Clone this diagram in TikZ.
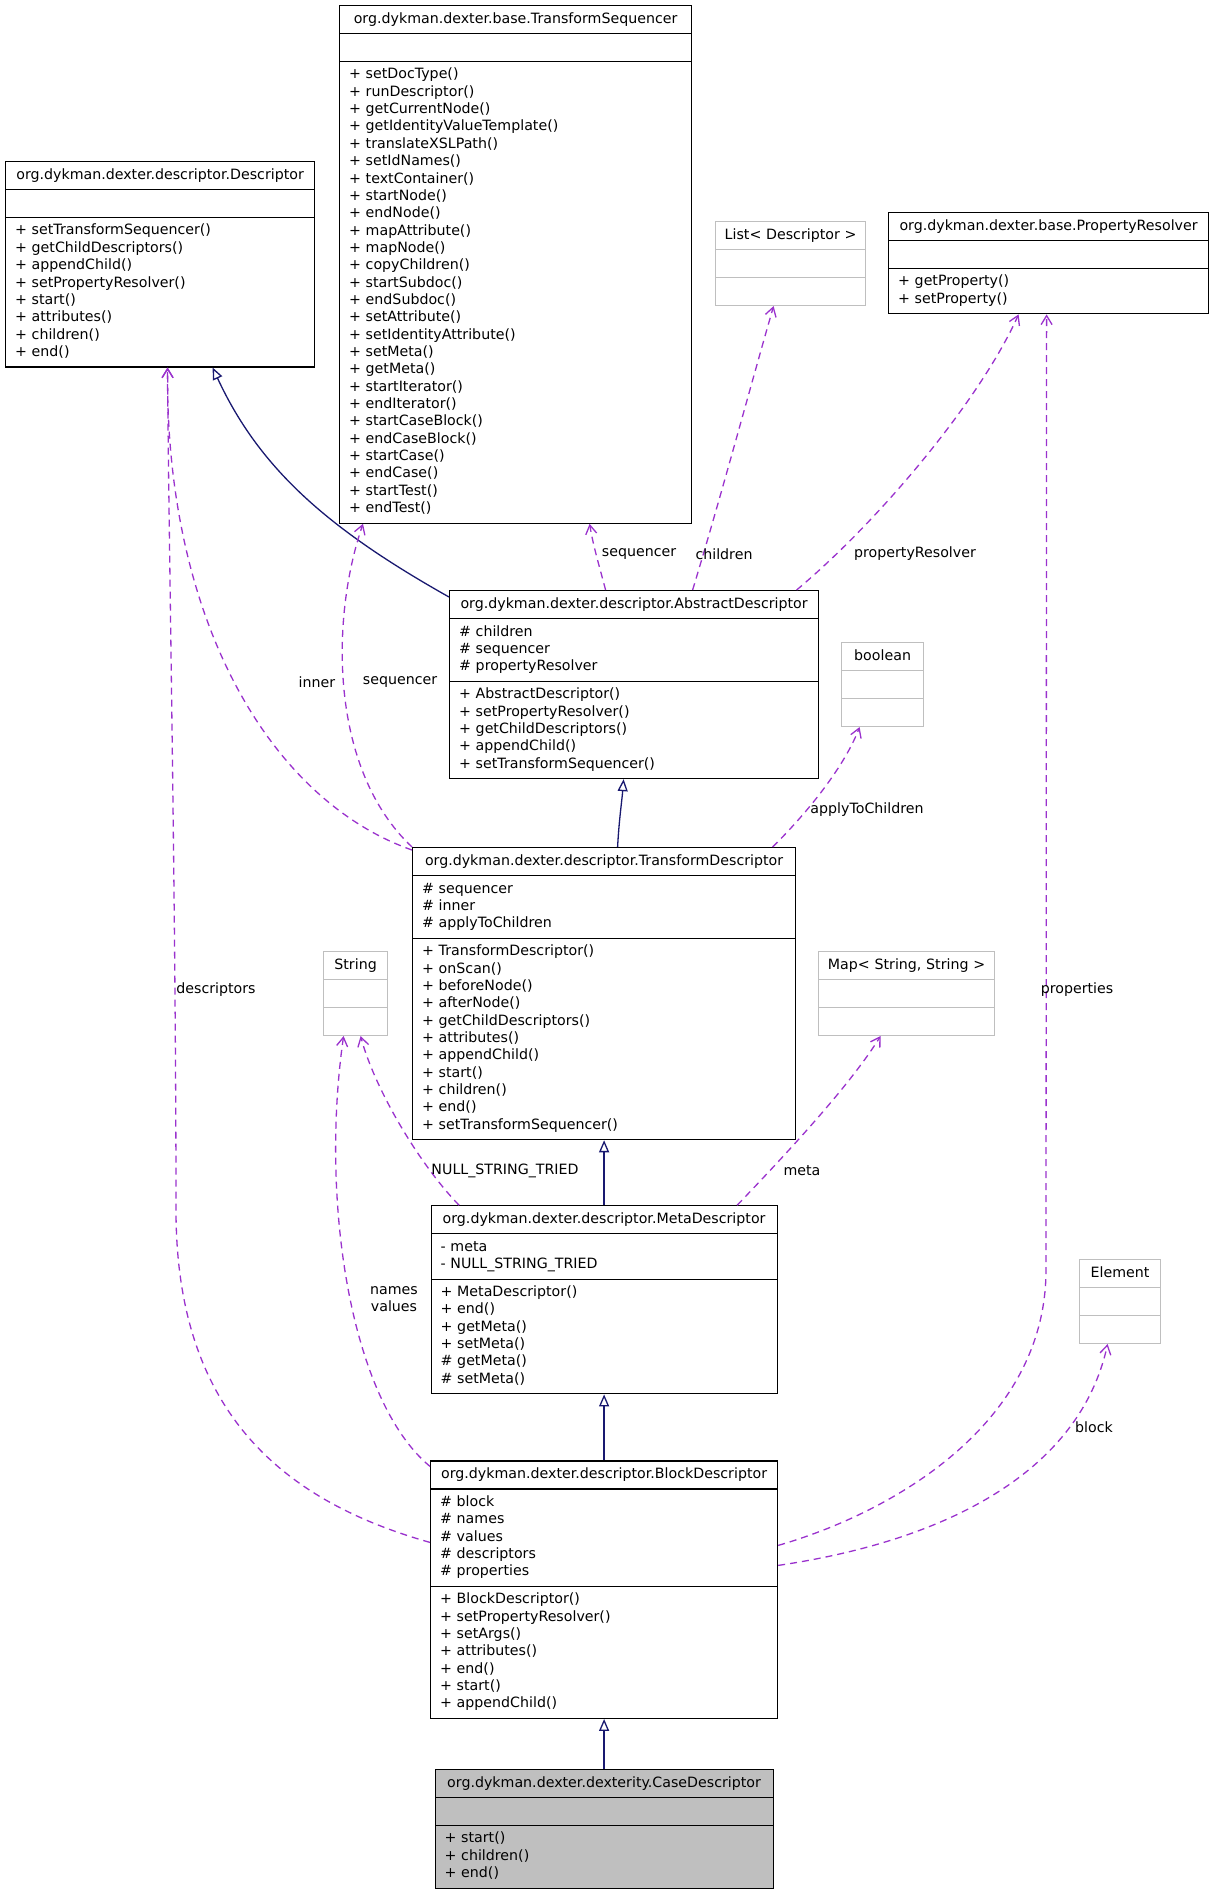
\documentclass[tikz,border=0pt]{standalone}
\usepackage{fontspec}
\usepackage{xcolor}
\usepackage{tikz}
\usetikzlibrary{shapes.multipart,arrows.meta,positioning}
\newfontfamily\umlfont{DejaVu Sans}
\definecolor{inheritclr}{HTML}{191970}
\definecolor{usageclr}{HTML}{9A32CD}
\definecolor{externclr}{HTML}{BFBFBF}
\newcommand{\classname}[1]{\noindent\makebox[\hsize]{\strut#1\strut}}
\newcommand{\members}[1]{\noindent\strut#1\strut}

\begin{document}
\begin{tikzpicture}[
        x=1pt, y=-1pt,
        umlfont/.style={font=\umlfont\fontsize{14.2pt}{17.35pt}\selectfont},
        classbox/.style={rectangle split, rectangle split parts=3, draw=black,
                         line width=1.2pt, fill=white, text width=#1, align=left,
                         inner xsep=9.5pt, inner ysep=4.7pt, umlfont},
        externbox/.style={classbox=#1, draw=externclr},
        focusbox/.style={classbox=#1, fill=externclr},
        inherits/.style={draw=inheritclr, line width=1.3pt,
                         -{Triangle[open, length=12pt, width=10pt]}},
        uses/.style={draw=usageclr, line width=1.3pt, dash pattern=on 7pt off 5pt,
                     -{Straight Barb[length=9pt, width=11pt]}},
        lbl/.style={umlfont, inner sep=0pt}
    ]
        \useasboundingbox (0,0) rectangle (1213,1896);

        % classes
        \node[classbox=333pt, anchor=north west] (seq) at (339,5) {\classname{org.dykman.dexter.base.TransformSequencer}
            \nodepart{second}\members{}
            \nodepart{third}\members{+ setDocType()\\+ runDescriptor()\\+ getCurrentNode()\\+ getIdentityValueTemplate()\\+ translateXSLPath()\\+ setIdNames()\\+ textContainer()\\+ startNode()\\+ endNode()\\+ mapAttribute()\\+ mapNode()\\+ copyChildren()\\+ startSubdoc()\\+ endSubdoc()\\+ setAttribute()\\+ setIdentityAttribute()\\+ setMeta()\\+ getMeta()\\+ startIterator()\\+ endIterator()\\+ startCaseBlock()\\+ endCaseBlock()\\+ startCase()\\+ endCase()\\+ startTest()\\+ endTest()}};
        \node[classbox=290pt, anchor=north west] (desc) at (5,161) {\classname{org.dykman.dexter.descriptor.Descriptor}
            \nodepart{second}\members{}
            \nodepart{third}\members{+ setTransformSequencer()\\+ getChildDescriptors()\\+ appendChild()\\+ setPropertyResolver()\\+ start()\\+ attributes()\\+ children()\\+ end()}};
        \node[externbox=131pt, anchor=north west] (list) at (715,221) {\classname{List< Descriptor >}
            \nodepart{second}\members{}
            \nodepart{third}\members{}};
        \node[classbox=301pt, anchor=north west] (resolver) at (888,212) {\classname{org.dykman.dexter.base.PropertyResolver}
            \nodepart{second}\members{}
            \nodepart{third}\members{+ getProperty()\\+ setProperty()}};
        \node[classbox=350pt, anchor=north west] (abstract) at (449,590) {\classname{org.dykman.dexter.descriptor.AbstractDescriptor}
            \nodepart{second}\members{\# children\\\# sequencer\\\# propertyResolver}
            \nodepart{third}\members{+ AbstractDescriptor()\\+ setPropertyResolver()\\+ getChildDescriptors()\\+ appendChild()\\+ setTransformSequencer()}};
        \node[externbox=63pt, anchor=north west] (bool) at (841,642) {\classname{boolean}
            \nodepart{second}\members{}
            \nodepart{third}\members{}};
        \node[classbox=364pt, anchor=north west] (transform) at (412,847) {\classname{org.dykman.dexter.descriptor.TransformDescriptor}
            \nodepart{second}\members{\# sequencer\\\# inner\\\# applyToChildren}
            \nodepart{third}\members{+ TransformDescriptor()\\+ onScan()\\+ beforeNode()\\+ afterNode()\\+ getChildDescriptors()\\+ attributes()\\+ appendChild()\\+ start()\\+ children()\\+ end()\\+ setTransformSequencer()}};
        \node[externbox=45pt, anchor=north west] (string) at (323,951) {\classname{String}
            \nodepart{second}\members{}
            \nodepart{third}\members{}};
        \node[externbox=157pt, anchor=north west] (map) at (818,951) {\classname{Map< String, String >}
            \nodepart{second}\members{}
            \nodepart{third}\members{}};
        \node[classbox=327pt, below=65pt of transform] (meta) {\classname{org.dykman.dexter.descriptor.MetaDescriptor}
            \nodepart{second}\members{- meta\\- NULL\_STRING\_TRIED}
            \nodepart{third}\members{+ MetaDescriptor()\\+ end()\\+ getMeta()\\+ setMeta()\\\# getMeta()\\\# setMeta()}};
        \node[externbox=62pt, anchor=north west] (element) at (1079,1259) {\classname{Element}
            \nodepart{second}\members{}
            \nodepart{third}\members{}};
        \node[classbox=328pt, below=66pt of meta] (block) {\classname{org.dykman.dexter.descriptor.BlockDescriptor}
            \nodepart{second}\members{\# block\\\# names\\\# values\\\# descriptors\\\# properties}
            \nodepart{third}\members{+ BlockDescriptor()\\+ setPropertyResolver()\\+ setArgs()\\+ attributes()\\+ end()\\+ start()\\+ appendChild()}};
        \node[focusbox=319pt, below=50pt of block] (case) {\classname{org.dykman.dexter.dexterity.CaseDescriptor}
            \nodepart{second}\members{}
            \nodepart{third}\members{+ start()\\+ children()\\+ end()}};

        % inheritance
        \draw[inherits] ([yshift=-7pt]abstract.north west) .. controls (330,530) and (260,470) .. ([xshift=52.5pt]desc.south);
        \draw[inherits] ([xshift=13.5pt]transform.north) .. controls (619,820) and (622,800) .. ([xshift=-10.5pt]abstract.south);
        \draw[inherits] (meta.north) -- (meta.north |- transform.south);
        \draw[inherits] (block.north) -- (block.north |- meta.south);
        \draw[inherits] (case.north) -- (case.north |- block.south);

        % usage
        \draw[uses] ([xshift=-28.5pt]abstract.north) .. controls (599,565) and (593,545) .. ([xshift=74pt]seq.south);
        \draw[uses] ([xshift=58.5pt]abstract.north) .. controls (720,500) and (755,370) .. ([xshift=-17pt]list.south);
        \draw[uses] ([xshift=162.5pt]abstract.north) .. controls (880,520) and (980,400) .. ([xshift=-30pt]resolver.south);
        \draw[uses] ([yshift=-3pt]transform.north west) .. controls (270,800) and (165,620) .. ([xshift=7.5pt]desc.south);
        \draw[uses] (transform.north west) .. controls (330,770) and (330,620) .. ([xshift=24pt]seq.south west);
        \draw[uses] ([xshift=168.5pt]transform.north) .. controls (810,810) and (845,765) .. ([xshift=-23pt]bool.south);
        \draw[uses] ([xshift=-145pt]meta.north) .. controls (420,1165) and (375,1090) .. ([xshift=5pt]string.south);
        \draw[uses] ([xshift=133pt]meta.north) .. controls (790,1150) and (850,1085) .. ([xshift=-26pt]map.south);
        \draw[uses] ([yshift=-6pt]block.north west) .. controls (350,1400) and (320,1200) .. ([xshift=-12pt]string.south);
        \draw[uses] ([yshift=-82pt]block.north west) .. controls (280,1500) and (176,1410) .. (176,1210)
            .. controls (176,900) and (168,500) .. ([xshift=7.5pt]desc.south);
        \draw[uses] ([yshift=-85pt]block.north east) .. controls (900,1510) and (1046,1420) .. (1046,1270)
            -- ([xshift=-2pt]resolver.south);
        \draw[uses] ([yshift=-105pt]block.north east) .. controls (950,1540) and (1080,1470) .. ([xshift=-12.5pt]element.south);

        % labels
        \node[lbl] (l-seq) at (639,554) {sequencer};
        \node[lbl] (l-children) at (724,554) {children};
        \node[lbl] (l-resolver) at (915,554) {propertyResolver};
        \node[lbl] (l-inner) at (317,682) {inner};
        \node[lbl] (l-seq2) at (400,682) {sequencer};
        \node[lbl] (l-apply) at (867,810) {applyToChildren};
        \node[lbl] (l-null) at (505,1171) {NULL\_STRING\_TRIED};
        \node[lbl] (l-meta) at (802,1171) {meta};
        \node[lbl, align=center] (l-names) at (394,1299) {names\\values};
        \node[lbl] (l-descr) at (216,990) {descriptors};
        \node[lbl] (l-props) at (1077,990) {properties};
        \node[lbl] (l-block) at (1094,1427) {block};
    \end{tikzpicture}
\end{document}
